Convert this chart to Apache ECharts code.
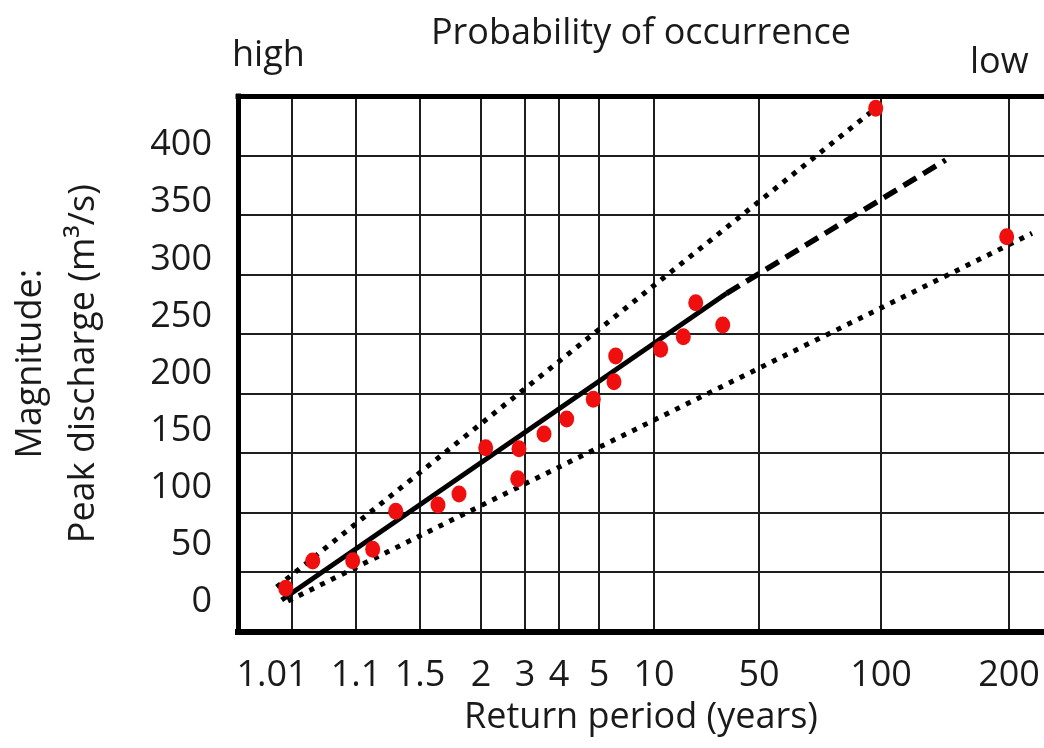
<!DOCTYPE html>
<html>
<head>
<meta charset="utf-8">
<script src="https://cdn.jsdelivr.net/npm/echarts@6/dist/echarts.min.js"></script>
<style>html,body{margin:0;padding:0;background:#fff}#c{width:1044px;height:748px}</style>
</head>
<body>
<div id="c"></div>
<script>
// Return-period ticks of the probability paper and their place on its (non-linear) scale, 0..100
const returnPeriodLabels = ['1.01', '1.1', '1.5', '2', '3', '4', '5', '10', '50', '100', '200'];
const returnPeriodScale = [6.70, 14.64, 22.58, 30.15, 35.61, 39.83, 44.79, 51.61, 64.64, 79.78, 95.66];
const dischargeTicks = [0, 50, 100, 150, 200, 250, 300, 350, 400];

// Observed annual peaks: position on the probability scale, peak discharge (m3/s)
const peakX = [5.92, 9.27, 14.23, 16.71, 19.57, 24.81, 27.42, 30.73, 34.86, 34.70, 37.97,
               40.78, 44.08, 46.65, 46.86, 52.44, 55.25, 56.79, 60.14, 79.12, 95.37];
const peakQ = [36.3, 59.2, 59.5, 69.1, 101.0, 106.3, 115.5, 154.5, 153.6, 128.4, 166.0,
               178.6, 195.1, 209.9, 231.5, 237.1, 247.7, 276.3, 257.6, 439.7, 331.8];

// Fitted line, its extrapolation and the confidence limits (end points)
const fitLine = [[5.42, 26.5], [60.63, 284.2]];
const fitExtension = [[60.63, 284.2], [87.80, 396.2]];
const upperLimit = [[4.80, 37.4], [79.12, 439.7]];
const lowerLimit = [[6.20, 25.6], [98.51, 334.6]];

const FONT = 'Open Sans';
const TXT = '#1a1a1a';

const chart = echarts.init(document.getElementById('c'), null, {renderer: 'canvas'});

function labelFor(v) {
  let best = 0;
  returnPeriodScale.forEach((p, i) => { if (Math.abs(p - v) < Math.abs(returnPeriodScale[best] - v)) best = i; });
  const t = returnPeriodLabels[best];
  return best === 0 ? '{shift|' + t + '}' : t;
}

const option = {
  animation: false,
  backgroundColor: '#fff',
  title: [
    {text: 'high', left: 232, top: 38, padding: 0,
     textStyle: {fontFamily: FONT, fontSize: 36, fontWeight: 'normal', color: TXT}},
    {text: 'low', left: 970, top: 45, padding: 0,
     textStyle: {fontFamily: FONT, fontSize: 36, fontWeight: 'normal', color: TXT}}
  ],
  grid: {left: 238, right: 0, top: 96, bottom: 116.5, containLabel: false, outerBoundsMode: 'none'},
  xAxis: [
    {
      type: 'value', min: 0, max: 100, position: 'bottom',
      name: 'Return period (years)', nameLocation: 'middle', nameGap: 68,
      nameTextStyle: {fontFamily: FONT, fontSize: 36, color: TXT},
      axisLine: {show: true, onZero: false, lineStyle: {color: '#000', width: 6, cap: 'square'}},
      axisTick: {show: false, customValues: returnPeriodScale},
      axisLabel: {
        customValues: returnPeriodScale, margin: 26,
        fontFamily: FONT, fontSize: 36, color: TXT,
        formatter: labelFor,
        rich: {shift: {fontFamily: FONT, fontSize: 36, color: TXT, padding: [0, 40, 0, 0]}}
      },
      splitLine: {show: true, lineStyle: {color: '#1e1e1e', width: 2}}
    },
    {
      type: 'value', min: 0, max: 100, position: 'top',
      name: 'Probability of occurrence', nameLocation: 'middle', nameGap: 44,
      nameTextStyle: {fontFamily: FONT, fontSize: 36, color: TXT},
      axisLine: {show: true, onZero: false, lineStyle: {color: '#000', width: 5, cap: 'square'}},
      axisTick: {show: false}, axisLabel: {show: false}, splitLine: {show: false}
    }
  ],
  yAxis: [
    {
      type: 'value', min: 0, max: 450, interval: 50, position: 'left',
      name: 'Magnitude:\nPeak discharge (m³/s)', nameLocation: 'middle', nameRotate: 90, nameGap: 128,
      nameTextStyle: {fontFamily: FONT, fontSize: 36, color: TXT, lineHeight: 53},
      axisLine: {show: true, onZero: false, lineStyle: {color: '#000', width: 5, cap: 'square'}},
      axisTick: {show: false}, axisLabel: {show: false},
      splitLine: {show: true, lineStyle: {color: '#1e1e1e', width: 2}}
    },
    {
      type: 'value', min: -25.8, max: 442.9, position: 'left',
      axisLine: {show: false, onZero: false}, axisTick: {show: false}, splitLine: {show: false},
      axisLabel: {customValues: dischargeTicks, margin: 26, fontFamily: FONT, fontSize: 36, color: TXT}
    }
  ],
  series: [
    {type: 'line', name: 'upper limit', data: upperLimit, symbol: 'none',
     lineStyle: {color: '#000', width: 5, type: [5, 7], cap: 'butt'}, z: 3},
    {type: 'line', name: 'lower limit', data: lowerLimit, symbol: 'none',
     lineStyle: {color: '#000', width: 5, type: [5, 7], cap: 'butt'}, z: 3},
    {type: 'line', name: 'fit', data: fitLine, symbol: 'none',
     lineStyle: {color: '#000', width: 5, type: 'solid'}, z: 3},
    {type: 'line', name: 'extrapolation', data: fitExtension, symbol: 'none',
     lineStyle: {color: '#000', width: 5.5, type: [15, 8], cap: 'butt'}, z: 3},
    {type: 'scatter', name: 'annual peaks', data: peakX.map((x, i) => [x, peakQ[i]]),
     symbol: 'circle', symbolSize: [15, 17], itemStyle: {color: '#f00f0f', opacity: 1}, z: 4}
  ]
};
chart.setOption(option);
</script>
</body>
</html>
